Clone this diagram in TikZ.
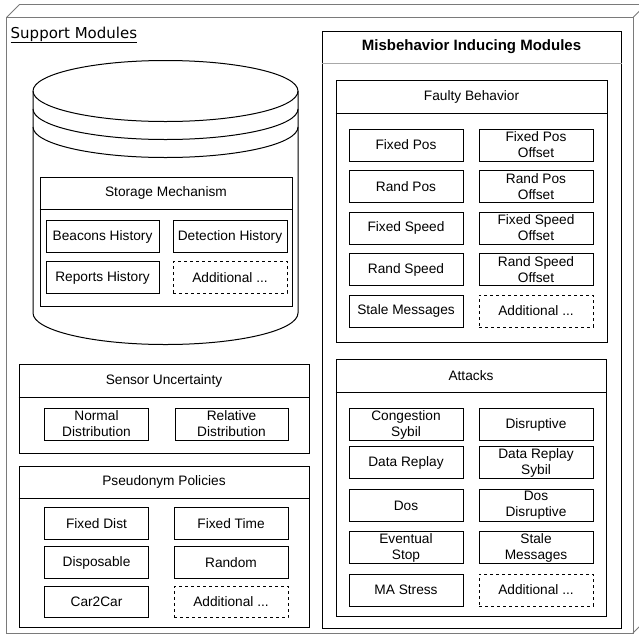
\documentclass[tikz,border=0pt]{standalone}
\usepackage{fontspec}
\setmainfont{Liberation Sans}
\newfontfamily\verdfont{DejaVu Sans}
\newcommand\fsreg{\fontsize{13.7}{16}\selectfont}
\newcommand\fsbold{\fontsize{15}{18}\selectfont\bfseries}
\definecolor{framegray}{HTML}{7A7A7A}
\definecolor{sepgray}{HTML}{A8A8A8}
\tikzset{
  cell/.style={draw, line width=1pt, inner sep=0pt, align=center, font=\fsreg, minimum height=31.5pt},
  addcell/.style={cell, dash pattern=on 3pt off 3pt},
  frame/.style={draw, line width=1pt, inner sep=0pt, fill=white},
  hdr/.style={inner sep=0pt, font=\fsreg},
  sepline/.style={line width=1pt},
}
\begin{document}
\begin{tikzpicture}[x=1pt, y=-1pt]
\useasboundingbox (0,0) rectangle (639,635);
% outer 3D node box
\draw[framegray, line width=0.9pt] (6.5,17.5) rectangle (633,633);
\draw[framegray, line width=0.9pt] (6.5,17.5) -- (19.5,4.5) -- (646,4.5) -- (646,620) -- (633,633);
\draw[framegray, line width=0.9pt] (633,17.5) -- (646,4.5);
\node[anchor=base west, inner sep=0pt, font=\verdfont\fontsize{15}{18}\selectfont] (sm) at (10.5,38) {\underline{Support Modules}};

% cylinder (data store)
\filldraw[fill=white, line width=1pt] (33,91) arc[start angle=180, end angle=0, x radius=132.5pt, y radius=30.5pt]
  -- (298,313) arc[start angle=0, end angle=-180, x radius=132.5pt, y radius=31.5pt] -- cycle;
\draw[line width=1pt] (33,91) arc[start angle=180, end angle=360, x radius=132.5pt, y radius=30.5pt];
\draw[line width=1pt] (33,109) arc[start angle=180, end angle=360, x radius=132.5pt, y radius=30.5pt];
\draw[line width=1pt] (33,127) arc[start angle=180, end angle=360, x radius=132.5pt, y radius=30.5pt];

% Storage Mechanism
\node[frame, minimum width=252pt, minimum height=129pt] (stor) at (166,241.5) {};
\draw[sepline] (stor.west |- 0,209) -- (stor.east |- 0,209);
\node[hdr] (storh) at (166,193) {Storage Mechanism};
\node[cell, minimum width=113pt] (beac) at (102.5,236.5) {Beacons History};
\node[cell, minimum width=114pt] (detc) at (230,236.5) {Detection History};
\node[cell, minimum width=113pt] (repo) at (102.5,277.5) {Reports History};
\node[addcell, minimum width=114pt] (stadd) at (230,277.5) {Additional ...};

% Sensor Uncertainty
\node[frame, minimum width=290pt, minimum height=89pt] (sens) at (164,408.5) {};
\draw[sepline] (sens.west |- 0,397) -- (sens.east |- 0,397);
\node[hdr] (sensh) at (164,380.5) {Sensor Uncertainty};
\node[cell, minimum width=104pt, minimum height=32pt] (norm) at (96.5,424) {Normal\\Distribution};
\node[cell, minimum width=113pt, minimum height=32pt] (rela) at (231.5,424) {Relative\\Distribution};

% Pseudonym Policies
\node[frame, minimum width=290pt, minimum height=161pt] (pseu) at (164,546.5) {};
\draw[sepline] (pseu.west |- 0,498) -- (pseu.east |- 0,498);
\node[hdr] (pseuh) at (164,482) {Pseudonym Policies};
\node[cell, minimum width=104pt] (fdist) at (96.5,523.5) {Fixed Dist};
\node[cell, minimum width=114pt] (ftime) at (231,523.5) {Fixed Time};
\node[cell, minimum width=104pt] (disp) at (96.5,562.5) {Disposable};
\node[cell, minimum width=114pt] (rand) at (231,562.5) {Random};
\node[cell, minimum width=104pt] (c2c) at (96.5,602) {Car2Car};
\node[addcell, minimum width=114pt] (psadd) at (231,602) {Additional ...};

% Misbehavior Inducing Modules
\node[frame, minimum width=299pt, minimum height=597pt] (mis) at (471.5,329.5) {};
\draw[sepgray, line width=1pt] (mis.west |- 0,63) -- (mis.east |- 0,63);
\node[hdr, font=\fsbold] (mish) at (471.5,47) {Misbehavior Inducing Modules};

% Faulty Behavior
\node[frame, minimum width=271pt, minimum height=262pt] (faul) at (471.5,211) {};
\draw[sepline] (faul.west |- 0,113) -- (faul.east |- 0,113);
\node[hdr] (faulh) at (471.5,96.5) {Faulty Behavior};
\node[cell, minimum width=114pt, minimum height=32pt] (fpos) at (406,145) {Fixed Pos};
\node[cell, minimum width=114pt, minimum height=32pt] (fposo) at (536,145) {Fixed Pos\\Offset};
\node[cell, minimum width=114pt, minimum height=32pt] (rpos) at (406,186.5) {Rand Pos};
\node[cell, minimum width=114pt, minimum height=32pt] (rposo) at (536,186.5) {Rand Pos\\Offset};
\node[cell, minimum width=114pt, minimum height=32pt] (fspd) at (406,228) {Fixed Speed};
\node[cell, minimum width=114pt, minimum height=32pt] (fspdo) at (536,228) {Fixed Speed\\Offset};
\node[cell, minimum width=114pt, minimum height=32pt] (rspd) at (406,269.5) {Rand Speed};
\node[cell, minimum width=114pt, minimum height=32pt] (rspdo) at (536,269.5) {Rand Speed\\Offset};
\node[cell, minimum width=114pt, minimum height=32pt] (stale) at (406,311) {Stale Messages};
\node[addcell, minimum width=114pt, minimum height=32pt] (fbadd) at (536,311) {Additional ...};

% Attacks
\node[frame, minimum width=270pt, minimum height=257pt] (atk) at (471,487.5) {};
\draw[sepline] (atk.west |- 0,392) -- (atk.east |- 0,392);
\node[hdr] (atkh) at (471,375.5) {Attacks};
\node[cell, minimum width=114pt] (cong) at (406,424.5) {Congestion\\Sybil};
\node[cell, minimum width=114pt] (disr) at (536,424.5) {Disruptive};
\node[cell, minimum width=114pt] (drep) at (406,462.5) {Data Replay};
\node[cell, minimum width=114pt] (dreps) at (536,462.5) {Data Replay\\Sybil};
\node[cell, minimum width=114pt] (dos) at (406,505.5) {Dos};
\node[cell, minimum width=114pt] (dosd) at (536,505.5) {Dos\\Disruptive};
\node[cell, minimum width=114pt] (evst) at (406,547.5) {Eventual\\Stop};
\node[cell, minimum width=114pt] (stm) at (536,547.5) {Stale\\Messages};
\node[cell, minimum width=114pt, minimum height=32pt] (mast) at (406,590) {MA Stress};
\node[addcell, minimum width=114pt, minimum height=32pt] (atadd) at (536,590) {Additional ...};
\end{tikzpicture}
\end{document}
